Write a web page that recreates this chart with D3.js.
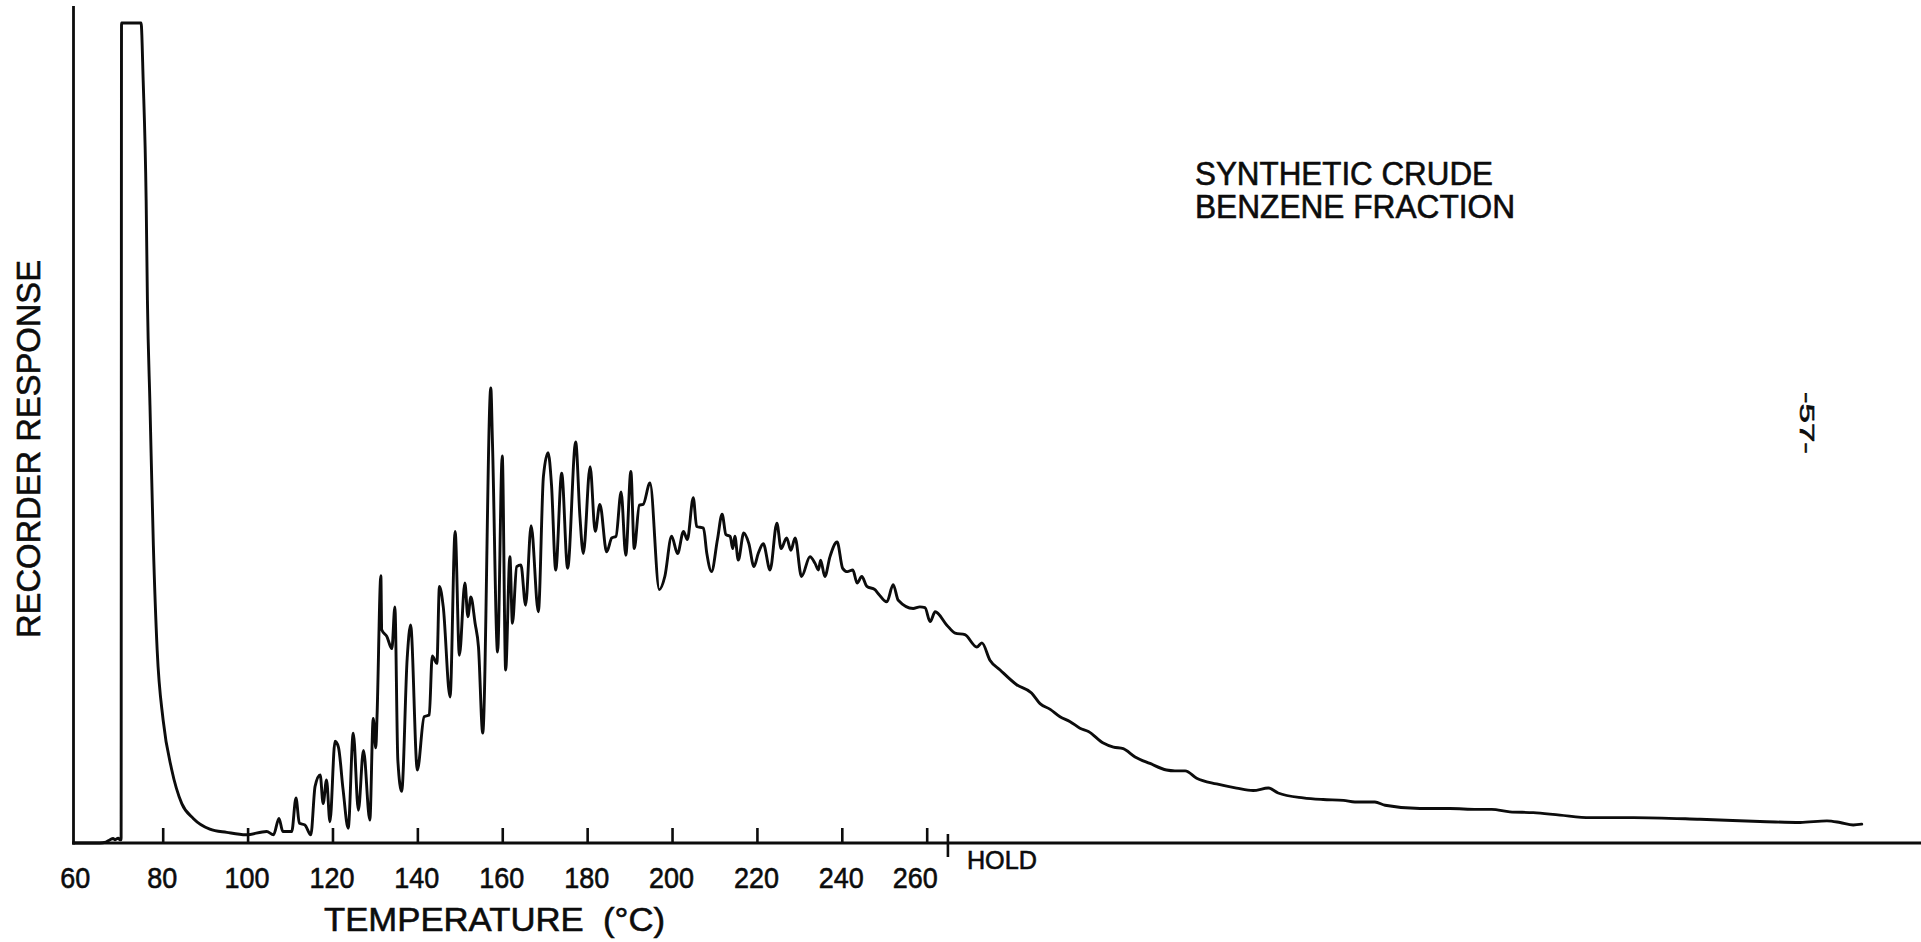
<!DOCTYPE html>
<html><head><meta charset="utf-8">
<script src="https://cdn.jsdelivr.net/npm/d3@7"></script>
<style>
html,body{margin:0;padding:0;background:#fff;overflow:hidden}
svg{display:block;background:#fff}
text{font-family:"Liberation Sans",Arial,sans-serif;fill:#0c0c0c;stroke:#0c0c0c;stroke-width:0.6px;white-space:pre}
</style></head><body>
<svg id="chart" width="1921" height="942"></svg>
<script>
// Temperature (°C; beyond the HOLD mark the scale continues as temperature-equivalent time)
const temperature = [59.0,65.2,66.6,67.6,68.3,68.8,69.5,69.9,70.2,70.3,74.9,75.4,76.1,76.4,77.0,77.8,78.7,80.1,82.1,84.5,
87.2,91.1,95.1,99.6,104.5,106.1,107.4,108.3,110.4,111.4,112.2,113.5,114.9,115.9,117.1,117.8,118.6,119.4,120.6,121.4,
122.5,123.7,124.9,126.1,127.3,128.8,129.6,130.2,130.5,131.4,131.6,132.8,134.0,134.7,135.4,136.3,137.6,138.4,140.0,141.6,
142.8,143.5,144.6,145.2,146.1,147.7,148.9,149.9,151.2,151.9,152.6,153.6,154.4,155.4,157.3,157.7,158.9,160.0,160.8,161.8,
162.4,163.4,164.4,165.5,166.8,168.5,169.7,170.8,171.6,172.6,174.0,175.4,177.3,178.3,179.1,180.7,181.9,183.0,184.6,185.8,
186.8,188.0,189.1,190.3,191.1,192.3,193.2,194.8,197.0,198.3,199.9,201.3,202.7,203.6,205.0,205.8,207.4,208.2,209.3,210.7,
211.8,212.7,213.7,214.3,214.8,215.6,216.9,218.1,219.3,220.3,221.5,223.1,224.7,225.7,227.0,228.0,229.0,230.5,232.5,233.7,
234.5,235.0,236.0,237.2,238.9,240.2,241.3,242.6,243.6,244.7,245.9,247.8,248.6,250.6,252.1,253.3,256.8,258.4,259.6,260.8,
262.0,264.7,266.7,269.0,271.8,273.0,274.9,277.3,281.2,284.7,286.7,289.1,291.4,293.8,296.1,298.1,301.6,304.0,306.3,309.1,
312.6,316.5,318.5,320.9,323.6,328.3,333.0,336.9,340.5,342.8,348.7,353.4,358.2,360.9,365.6,368.0,376.2,383.3,389.6,393.1,
397.4,402.9,409.2,416.3,426.5,442.2,457.9,465.8,472.1,475.2,478.3,480.3];

// Recorder response (0 = baseline, 100 = full scale / off-scale solvent peak)
const response = [0,0,0.1,0.4,0.55,0.4,0.6,0.4,0.4,100,100,93.0,78.4,66.2,53.4,36.3,23.5,15.0,9.0,4.8,
3.0,1.7,1.3,1.0,1.4,1.0,3.0,1.4,1.4,5.5,2.4,2.2,1.0,6.9,8.3,4.8,7.7,2.6,12.4,11.7,
6.5,1.8,13.4,4.0,11.3,2.8,15.2,11.6,15.5,32.6,26.0,25.2,23.7,28.8,10.1,6.3,22.5,26.6,8.9,15.4,
15.6,22.8,21.9,31.3,28.8,17.8,38.0,22.9,31.7,27.6,30.0,26.8,23.9,13.4,55.5,48.7,23.3,47.2,21.1,34.9,
26.8,33.7,33.9,29.0,38.7,28.2,44.7,47.6,43.7,33.3,45.1,33.5,48.9,39.8,35.3,45.9,38.0,41.3,35.5,37.2,
37.4,42.8,35.1,45.3,35.9,41.2,41.3,43.9,30.9,32.5,37.4,35.3,38.0,37.0,42.1,38.6,38.4,35.3,33.1,37.0,
40.1,37.6,37.4,35.9,37.4,34.5,37.8,36.5,33.7,35.3,36.5,33.3,39.0,35.9,37.2,35.7,37.2,32.5,34.9,34.1,
33.3,34.5,32.5,34.9,36.7,33.5,33.1,33.3,31.7,32.5,31.3,30.9,30.4,29.4,31.5,29.6,28.6,28.8,28.7,27.0,
28.2,26.6,25.6,25.4,23.9,24.4,22.3,21.1,19.3,18.3,17.0,16.3,15.4,14.8,14.0,13.6,12.2,11.7,11.5,10.5,
9.7,8.9,8.8,8.8,7.9,7.2,6.7,6.4,6.7,6.1,5.5,5.3,5.2,5.0,5.0,4.6,4.2,4.2,4.1,4.1,
3.8,3.7,3.4,3.1,3.1,2.9,2.6,2.5,2.7,2.5,2.2,2.3];

const tickValues = [60,80,100,120,140,160,180,200,220,240,260];
const tickLabels = ["60","80","100","120","140","160","180","200","220","240","260"];
const holdTemperature = 265;
const holdLabel = "HOLD";
const titleLines = ["SYNTHETIC CRUDE","BENZENE FRACTION"];
const xAxisTitle = "TEMPERATURE  (°C)";
const yAxisTitle = "RECORDER RESPONSE";
const pageNumber = "-57-";

const W = 1921, H = 942;
const svg = d3.select("#chart");
svg.append("rect").attr("width", W).attr("height", H).attr("fill", "#fff");

const x = d3.scaleLinear().domain([80, 260]).range([162.7, 926.7]);
const y = d3.scaleLinear().domain([0, 100]).range([843, 23]);
const axisLeftX = 73.5;
const ink = "#0c0c0c";

// y axis line
svg.append("line")
  .attr("x1", axisLeftX).attr("x2", axisLeftX)
  .attr("y1", y(0) + 1.5).attr("y2", 6)
  .attr("stroke", ink).attr("stroke-width", 2.8);

// x axis line
svg.append("line")
  .attr("x1", axisLeftX - 1.4).attr("x2", W)
  .attr("y1", y(0)).attr("y2", y(0))
  .attr("stroke", ink).attr("stroke-width", 3.2);

// x axis ticks and labels
const xAxis = d3.axisBottom(x)
  .tickValues(tickValues)
  .tickFormat((d, i) => tickLabels[i])
  .tickSizeInner(-15)
  .tickSizeOuter(0)
  .tickPadding(24);
const gx = svg.append("g").attr("transform", `translate(0,${y(0)})`).call(xAxis);
gx.select(".domain").remove();
gx.selectAll(".tick line").attr("stroke", ink).attr("stroke-width", 2.6);
gx.selectAll(".tick").filter(d => d === 60).select("line").remove();
gx.selectAll(".tick text")
  .attr("fill", ink)
  .attr("stroke", ink)
  .style("font-size", "30px")
  .style("font-family", '"Liberation Sans", Arial, sans-serif')
  .attr("textLength", (d, i) => tickLabels[i].length * 15)
  .attr("lengthAdjust", "spacingAndGlyphs")
  .attr("dx", d => d === 60 ? -3 : (d === 260 ? -12 : -1));

// HOLD marker
svg.append("line")
  .attr("x1", x(holdTemperature)).attr("x2", x(holdTemperature))
  .attr("y1", y(0) - 9).attr("y2", y(0) + 14)
  .attr("stroke", ink).attr("stroke-width", 2.6);
svg.append("text")
  .attr("x", x(holdTemperature) + 19).attr("y", 869)
  .attr("textLength", 70).attr("lengthAdjust", "spacingAndGlyphs")
  .style("font-size", "25px")
  .text(holdLabel);

// chromatogram trace
const pts = temperature.map((t, i) => [t, response[i]]);
const line = d3.line().x(d => x(d[0])).y(d => y(d[1])).curve(d3.curveMonotoneX);
svg.append("path")
  .datum(pts)
  .attr("d", line)
  .attr("fill", "none")
  .attr("stroke", ink)
  .attr("stroke-width", 2.9)
  .attr("stroke-linejoin", "round")
  .attr("stroke-linecap", "round");

// title (one text block, two lines)
const title = svg.append("text").style("font-size", "32.5px");
title.append("tspan").attr("x", 1195).attr("y", 185)
  .attr("textLength", 298).attr("lengthAdjust", "spacingAndGlyphs").text(titleLines[0]);
title.append("tspan").attr("x", 1195).attr("y", 218)
  .attr("textLength", 320).attr("lengthAdjust", "spacingAndGlyphs").text(titleLines[1]);

// axis titles
svg.append("text").attr("x", 324).attr("y", 931)
  .attr("textLength", 341).attr("lengthAdjust", "spacingAndGlyphs")
  .style("font-size", "34px").text(xAxisTitle);
svg.append("text")
  .attr("transform", "translate(40,449) rotate(-90)")
  .attr("text-anchor", "middle")
  .attr("textLength", 378).attr("lengthAdjust", "spacingAndGlyphs")
  .style("font-size", "33px").text(yAxisTitle);

// page number (rotated)
svg.append("text")
  .attr("transform", "translate(1800,392) rotate(90)")
  .attr("textLength", 62).attr("lengthAdjust", "spacingAndGlyphs")
  .style("font-size", "20px").text(pageNumber);
</script>
</body></html>
